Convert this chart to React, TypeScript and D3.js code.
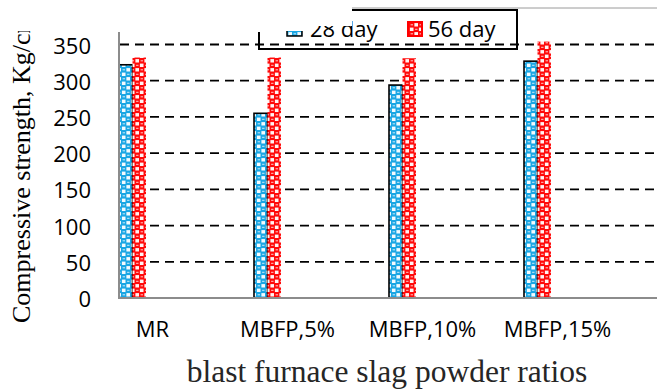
import React from 'react';
import * as d3 from 'd3';

const categories = ['MR', 'MBFP,5%', 'MBFP,10%', 'MBFP,15%'];
const seriesNames = ['28 day', '56 day'];
const day28 = [322, 255, 294, 327];
const day56 = [332, 332, 331, 354];
const yTicks = [0, 50, 100, 150, 200, 250, 300, 350];

const W = 657;
const H = 391;
const SANS = '"Open Sans", "Noto Sans", sans-serif';
const SERIF = '"Liberation Serif", "DejaVu Serif", serif';

export default function App() {
  const x = d3.scaleBand<string>().domain(categories).range([85, 625]).paddingInner(0);
  const y = d3.scaleLinear().domain([0, 350]).range([298, 44.5]);
  const barW = 13.5;
  const sub = d3.scaleBand<string>().domain(seriesNames).range([-33.5, -33.5 + 2 * barW]);
  const center = (c: string) => (x(c) as number) + x.bandwidth() / 2;
  const fills = ['url(#pBlue)', 'url(#pRed)'];
  const data = [day28, day56];

  return (
    <div style={{ position: 'fixed', left: 0, top: 0 }}>
      <svg width={W} height={H} viewBox={`0 0 ${W} ${H}`} style={{ display: 'block', background: '#fff' }}>
        <defs>
          <pattern id="pBlue" patternUnits="userSpaceOnUse" width="9" height="9">
            <rect width="9" height="9" fill="#1aa6e4" />
            <rect x="4.9" y="0.6" width="3.6" height="3.4" fill="#f4fbfe" />
            <rect x="0.4" y="5.1" width="3.6" height="3.4" fill="#f4fbfe" />
            <rect x="1.1" y="1.8" width="2.4" height="1" fill="#c9ecfa" />
            <rect x="5.6" y="6.3" width="2.4" height="1" fill="#c9ecfa" />
          </pattern>
          <pattern id="pRed" patternUnits="userSpaceOnUse" width="9" height="9">
            <rect width="9" height="9" fill="#ff0a0a" />
            <rect x="4.9" y="0.6" width="3.6" height="3.4" fill="#fff3f3" />
            <rect x="0.4" y="5.1" width="3.6" height="3.4" fill="#fff3f3" />
            <rect x="1.1" y="1.8" width="2.4" height="1" fill="#ffc8c8" />
            <rect x="5.6" y="6.3" width="2.4" height="1" fill="#ffc8c8" />
          </pattern>
          <clipPath id="ytitleClip">
            <rect x="0" y="31" width="60" height="360" />
          </clipPath>
        </defs>

        {/* gridlines */}
        {yTicks.filter((t) => t > 0).map((t) => (
          <line key={t} x1={120} x2={W} y1={y(t)} y2={y(t)} stroke="#000" strokeWidth={1.8} strokeDasharray="9,6" />
        ))}

        {/* bars */}
        {seriesNames.map((s, si) =>
          categories.map((c, ci) => {
            const bx = center(c) + (sub(s) as number);
            const by = y(data[si][ci]);
            return (
              <rect
                key={s + c}
                x={bx}
                y={by}
                width={barW}
                height={y(0) - by}
                fill={fills[si]}
                stroke={si === 0 ? '#000' : 'none'}
                strokeWidth={si === 0 ? 1.6 : 0}
              />
            );
          })
        )}

        {/* axes */}
        <line x1={119} x2={119} y1={32} y2={y(0)} stroke="#8c8c8c" strokeWidth={2} />
        <line x1={118} x2={W} y1={y(0)} y2={y(0)} stroke="#8c8c8c" strokeWidth={2} />

        {/* y tick labels */}
        {yTicks.map((t) => (
          <text key={t} x={91} y={y(t)} textAnchor="end" dominantBaseline="central" fontFamily={SANS} fontSize={22} fill="#000">
            {t}
          </text>
        ))}

        {/* category labels */}
        {categories.map((c) => (
          <text key={c} x={center(c)} y={337} textAnchor="middle" fontFamily={SANS} fontSize={22} fill="#000">
            {c}
          </text>
        ))}

        {/* axis titles */}
        <g clipPath="url(#ytitleClip)">
          <text transform="translate(30,323) rotate(-90)" textAnchor="start" fontFamily={SERIF} fontSize={26} fill="#000">
            Compressive strength, Kg/cm²
          </text>
        </g>
        <text x={387} y={382} textAnchor="middle" fontFamily={SERIF} fontSize={31.5} fill="#262626">
          blast furnace slag powder ratios
        </text>

        {/* legend */}
        <line x1={352} x2={W} y1={8} y2={8} stroke="#9a9a9a" strokeWidth={1} />
        <path d="M259,32 V49 H517 V10 H352" fill="none" stroke="#000" strokeWidth={2} />
        <rect x={287} y={22} width={15} height={14} fill="url(#pBlue)" stroke="#000" strokeWidth={1.5} />
        <text x={310} y={37} fontFamily={SANS} fontSize={22} fill="#000">{seriesNames[0]}</text>
        <rect x={408} y={22} width={14} height={14} fill="url(#pRed)" stroke="#ff0000" strokeWidth={2} />
        <text x={428} y={37} fontFamily={SANS} fontSize={22} fill="#000">{seriesNames[1]}</text>
        <rect x={240} y={0} width={112} height={26} fill="#fff" />
        <rect x={284} y={0} width={22} height={31} fill="#fff" />
      </svg>
    </div>
  );
}
